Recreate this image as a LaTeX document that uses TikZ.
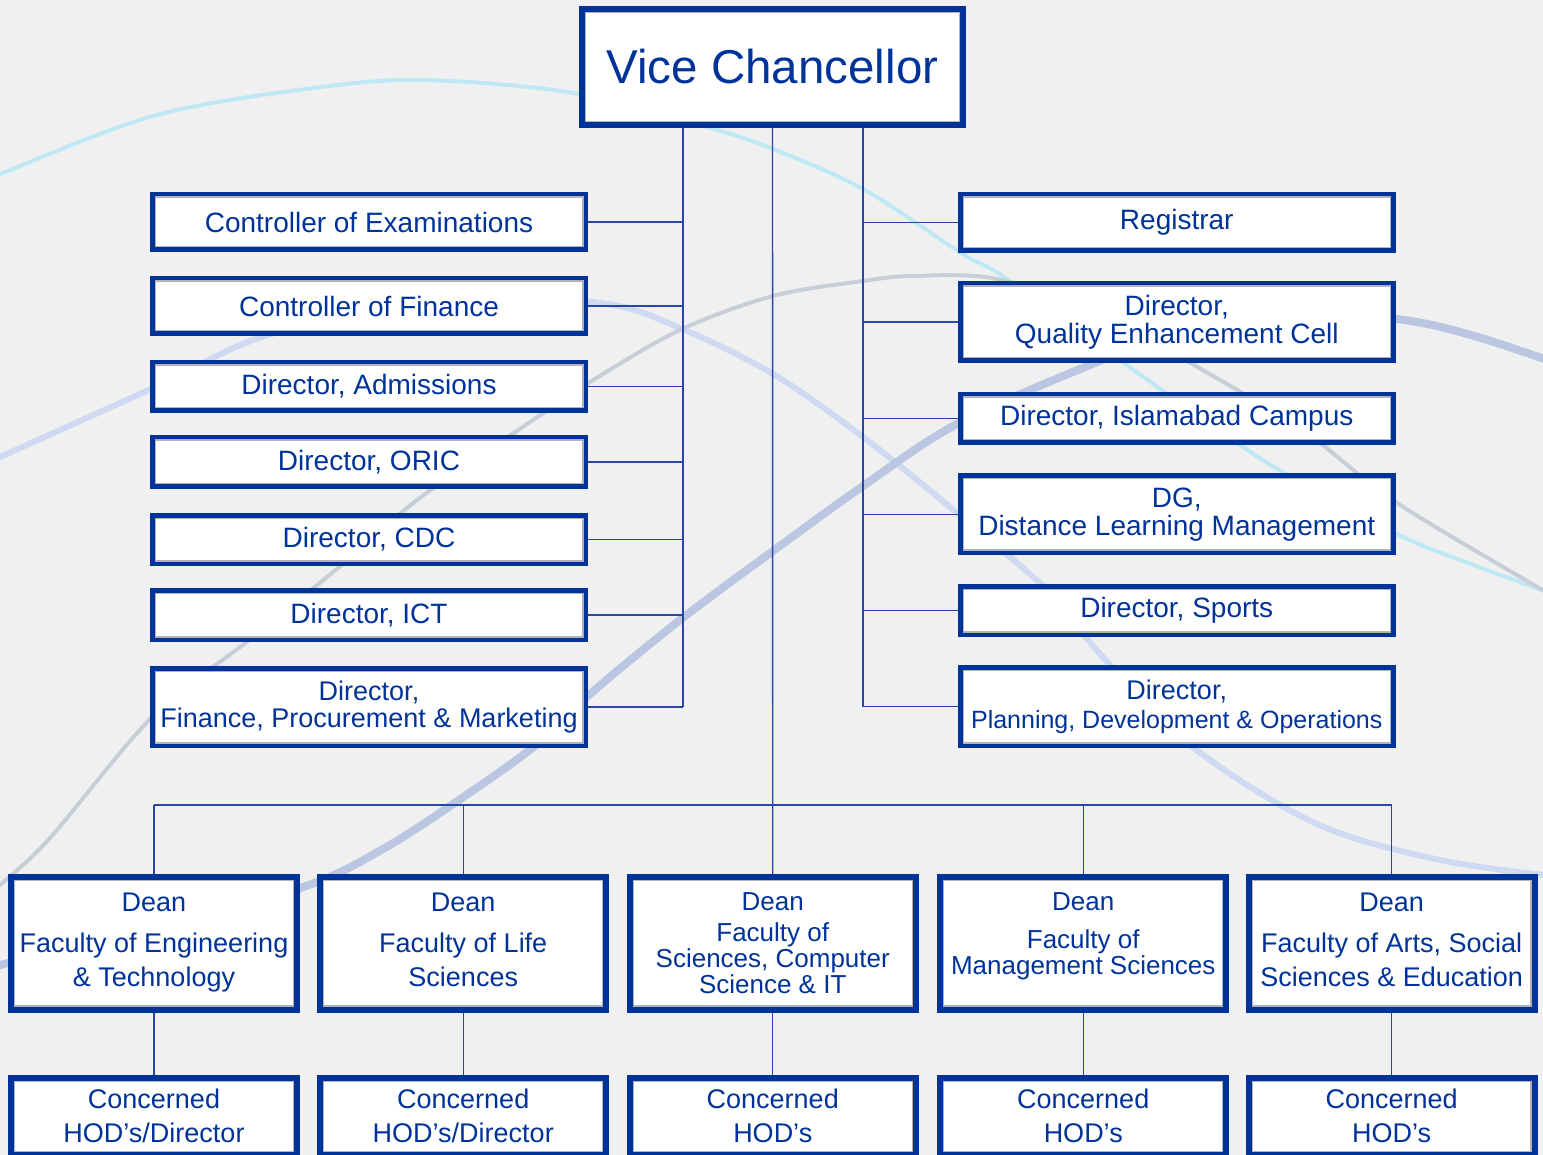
\documentclass[tikz,border=0pt]{standalone}
\usepackage{fontspec}
\setmainfont{Liberation Sans}
\usetikzlibrary{backgrounds}
\definecolor{boxblue}{RGB}{0,51,153}
\definecolor{linkblue}{RGB}{40,70,165}
\definecolor{bggray}{RGB}{240,240,240}
\definecolor{cvcyan}{RGB}{190,232,244}
\definecolor{cvlav}{RGB}{206,218,242}
\definecolor{cvgray}{RGB}{200,206,216}
\definecolor{cvblue}{RGB}{186,198,226}
\definecolor{innergray}{RGB}{178,178,178}
\tikzset{
  orgbox/.style={draw=boxblue, fill=white, text=boxblue, inner sep=0pt, outer sep=0pt,
    align=center, line width=#1,
    path picture={\draw[innergray, line width=1.2pt]
      ([shift={(#1/2+0.6pt,-#1/2-0.6pt)}]path picture bounding box.north west) rectangle
      ([shift={(-#1/2-0.6pt,#1/2+0.6pt)}]path picture bounding box.south east);}},
  lbox/.style={orgbox=4.5pt, minimum width=433.5pt, font=\fontsize{28}{28}\selectfont},
  rbox/.style={orgbox=4.5pt, minimum width=433pt, font=\fontsize{28}{28}\selectfont},
  deanbox/.style={orgbox=6pt, minimum width=286pt, minimum height=133pt},
  hodbox/.style={orgbox=6pt, minimum width=286pt, minimum height=77.5pt,
    font=\fontsize{27}{34}\selectfont},
  conn/.style={draw=linkblue, line width=1.4pt},
  bgcurve/.style={line cap=round, smooth, tension=0.55},
}
\begin{document}
\begin{tikzpicture}[x=1pt, y=-1pt]
\useasboundingbox (0,0) rectangle (1543,1155);
\clip (0,0) rectangle (1543,1155);

% ---------- top ----------
\node[orgbox=6pt, minimum width=381pt, minimum height=116pt,
      font=\fontsize{47.5}{50}\selectfont] (vc) at (772.5,67) {Vice Chancellor};

% ---------- left column ----------
\node[lbox, minimum height=55.5pt] (lb1) at (369,222) {Controller of Examinations};
\node[lbox, minimum height=55.5pt] (lb2) at (369,306) {Controller of Finance};
\node[lbox, minimum height=48.5pt] (lb3) at (369,386.5) {Director, Admissions};
\node[lbox, minimum height=49.5pt] (lb4) at (369,462) {Director, ORIC};
\node[lbox, minimum height=48.5pt] (lb5) at (369,539.5) {Director, CDC};
\node[lbox, minimum height=49.5pt] (lb6) at (369,615) {Director, ICT};
\node[lbox, minimum height=77.5pt, font=\fontsize{27}{27}\selectfont] (lb7) at (369,707)
  {Director,\\Finance, Procurement \& Marketing};

% ---------- right column ----------
\node[rbox, minimum height=56.5pt] (rb1) at (1176.75,222.5) {Registrar};
\node[rbox, minimum height=77.5pt] (rb2) at (1176.75,322) {Director,\\Quality Enhancement Cell};
\node[rbox, minimum height=48.5pt] (rb3) at (1176.75,418.5) {Director, Islamabad Campus};
\node[rbox, minimum height=77pt] (rb4) at (1176.75,514.25) {DG,\\Distance Learning Management};
\node[rbox, minimum height=48.5pt] (rb5) at (1176.75,610.5) {Director, Sports};
\node[rbox, minimum height=78.5pt, font=\fontsize{27}{29}\selectfont] (rb6) at (1176.75,706.5)
  {Director,\\\fontsize{25}{29}\selectfont Planning, Development \& Operations};

% ---------- deans ----------
\node[deanbox, font=\fontsize{27}{34}\selectfont] (d1) at (154,943)
  {Dean\\[7pt]Faculty of Engineering\\\& Technology};
\node[deanbox, font=\fontsize{27}{34}\selectfont] (d2) at (463.25,943)
  {Dean\\[7pt]Faculty of Life\\Sciences\vphantom{y}};
\node[deanbox, font=\fontsize{26}{26}\selectfont] (d3) at (772.75,943)
  {Dean\\[5pt]Faculty of\\Sciences, Computer\\Science \& IT};
\node[deanbox, font=\fontsize{26}{26}\selectfont] (d4) at (1083.25,943)
  {\raisebox{5.5pt}[\height][\depth]{\begin{tabular}{@{}c@{}}Dean\\[11pt]Faculty of\\Management Sciences\end{tabular}}};
\node[deanbox, font=\fontsize{27}{34}\selectfont] (d5) at (1391.65,943)
  {Dean\\[7pt]Faculty of Arts, Social\\Sciences \& Education\vphantom{y}};

% ---------- HODs ----------
\node[hodbox] (h1) at (154,1116.25) {Concerned\\HOD’s/Director};
\node[hodbox] (h2) at (463.25,1116.25) {Concerned\\HOD’s/Director};
\node[hodbox] (h3) at (772.75,1116.25) {Concerned\\HOD’s};
\node[hodbox] (h4) at (1083.25,1116.25) {Concerned\\HOD’s};
\node[hodbox] (h5) at (1391.65,1116.25) {Concerned\\HOD’s};

\coordinate (ljoin) at (683,707);
\coordinate (rjoin) at (863,706.5);
\coordinate (bus) at (772.75,805);

\begin{scope}[on background layer]
  \clip (0,0) rectangle (1543,1155);
  \fill[bggray] (0,0) rectangle (1543,1155);
  % decorative curves
  \draw[bgcurve, cvcyan, line width=4pt] plot coordinates {(-10,178) (0,174) (153,116) (306,89) (421,80) (574,93) (707,127) (773,149) (863,189) (961,253) (1010,281) (1163,391) (1274,467) (1397,534) (1471,564) (1553,594)};
  \draw[bgcurve, cvlav, line width=6pt] plot coordinates {(-10,461) (0,457) (153,388) (268,335) (440,300) (600,303) (680,328) (773,374) (863,437) (957,513) (1047,590) (1102,656) (1194,748) (1317,824) (1440,860) (1553,876)};
  \draw[bgcurve, cvgray, line width=4pt] plot coordinates {(-10,893) (0,885) (50,838) (153,716) (249,640) (344,563) (421,497) (536,418) (590,382) (680,330) (773,296) (863,281) (913,276) (997,279) (1100,315) (1194,365) (1305,432) (1397,503) (1553,596)};
  \draw[bgcurve, cvblue, line width=8pt] plot coordinates {(-10,970) (8,963) (150,930) (306,886) (383,849) (459,800) (536,745) (590,694) (680,620) (773,551) (863,486) (957,424) (1090,365) (1250,305) (1397,319) (1471,335) (1553,362)};
  % connectors
  \draw[conn] (vc.south -| ljoin) -- (ljoin);
  \foreach \b in {lb1,lb2,lb3,lb4,lb5,lb6,lb7}
    \draw[conn] (\b.east) -- (\b.east -| ljoin);
  \draw[conn] (vc.south -| rjoin) -- (rjoin);
  \foreach \b in {rb1,rb2,rb3,rb4,rb5,rb6}
    \draw[conn] (\b.west) -- (\b.west -| rjoin);
  \draw[conn] (vc.south) -- (d3.north);
  \draw[conn] (d1.north |- bus) -- (d5.north |- bus);
  \foreach \d in {d1,d2,d4,d5}
    \draw[conn] (\d.north) -- (\d.north |- bus);
  \draw[conn] (d1.south) -- (h1.north);
  \draw[conn] (d2.south) -- (h2.north);
  \draw[conn] (d3.south) -- (h3.north);
  \draw[conn] (d4.south) -- (h4.north);
  \draw[conn] (d5.south) -- (h5.north);
\end{scope}
\end{tikzpicture}
\end{document}
